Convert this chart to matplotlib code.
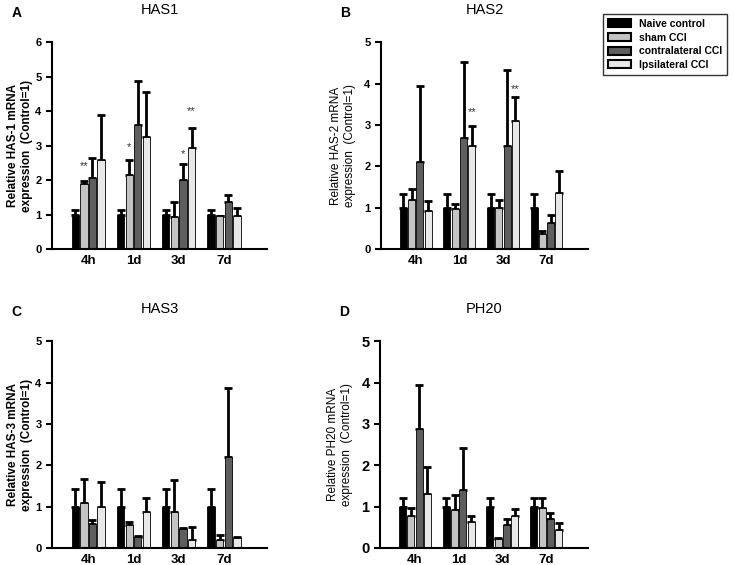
import numpy as np
import matplotlib
matplotlib.use('Agg')
from matplotlib import pyplot as plt
from matplotlib.patches import Patch

plt.rcParams['font.family'] = ['Liberation Sans', 'DejaVu Sans']

groups = ['4h', '1d', '3d', '7d']
series = ['Naive control', 'sham CCI', 'contralateral CCI', 'Ipsilateral CCI']
colors = ['#000000', '#c4c4c4', '#5e5e5e', '#e8e8e8']

# means (rows = series, cols = time points) and upper error sizes
has1_mean = [[1.0, 1.0, 1.0, 1.0], [1.88, 2.15, 0.93, 0.95],
             [2.07, 3.6, 2.0, 1.37], [2.58, 3.25, 2.92, 0.97]]
has1_err = [[0.13, 0.13, 0.13, 0.13], [0.10, 0.43, 0.42, 0.02],
            [0.57, 1.28, 0.46, 0.19], [1.30, 1.30, 0.58, 0.21]]

has2_mean = [[1.0, 1.0, 1.0, 1.0], [1.18, 0.96, 1.0, 0.37],
             [2.1, 2.68, 2.5, 0.64], [0.92, 2.48, 3.1, 1.36]]
has2_err = [[0.33, 0.33, 0.33, 0.33], [0.28, 0.14, 0.18, 0.06],
            [1.85, 1.84, 1.83, 0.17], [0.23, 0.50, 0.57, 0.52]]

has3_mean = [[1.0, 1.0, 1.0, 1.0], [1.08, 0.56, 0.87, 0.2],
             [0.58, 0.26, 0.47, 2.2], [0.98, 0.88, 0.2, 0.24]]
has3_err = [[0.43, 0.43, 0.43, 0.43], [0.60, 0.07, 0.77, 0.12],
            [0.10, 0.03, 0.02, 1.67], [0.62, 0.34, 0.30, 0.02]]

ph20_mean = [[1.0, 1.0, 1.0, 1.0], [0.78, 0.92, 0.21, 0.96],
             [2.87, 1.4, 0.56, 0.69], [1.3, 0.62, 0.78, 0.44]]
ph20_err = [[0.20, 0.20, 0.20, 0.20], [0.18, 0.36, 0.02, 0.24],
            [1.06, 1.02, 0.14, 0.16], [0.65, 0.16, 0.17, 0.16]]

# significance marks: (group, series, y, text)
has1_stars = [(0, 1, 2.25, '**'), (1, 1, 2.8, '*'), (2, 2, 2.6, '*'), (2, 3, 3.85, '**')]
has2_stars = [(1, 3, 3.2, '**'), (2, 3, 3.75, '**')]

panels = [
    dict(letter='A', title='HAS1', gene='HAS-1', mean=has1_mean, err=has1_err, ymax=6,
         stars=has1_stars, rect=[0.0708, 0.5593, 0.293, 0.366], bold=True, tsize=8),
    dict(letter='B', title='HAS2', gene='HAS-2', mean=has2_mean, err=has2_err, ymax=5,
         stars=has2_stars, rect=[0.519, 0.5593, 0.282, 0.366], bold=False, tsize=8),
    dict(letter='C', title='HAS3', gene='HAS-3', mean=has3_mean, err=has3_err, ymax=5,
         stars=[], rect=[0.0708, 0.0301, 0.293, 0.366], bold=True, tsize=8),
    dict(letter='D', title='PH20', gene='PH20', mean=ph20_mean, err=ph20_err, ymax=5,
         stars=[], rect=[0.5177, 0.0301, 0.283, 0.366], bold=False, tsize=10.5),
]

fig = plt.figure(figsize=(7.34, 5.65), dpi=100)

step = 0.19
width = 0.16
x = np.arange(len(groups))

for p in panels:
    ax = fig.add_axes(p['rect'])
    for i in range(len(series)):
        xs = x + (i - 1.5) * step
        m = np.array(p['mean'][i])
        e = np.array(p['err'][i])
        ax.bar(xs, m, width, color=colors[i], edgecolor='black', linewidth=0.6, zorder=2)
        ax.errorbar(xs, m, yerr=[np.zeros_like(e), e], fmt='none', ecolor='black',
                    elinewidth=2, capsize=3.2, capthick=2, zorder=1)
    for g, s, y, t in p['stars']:
        ax.text(x[g] + (s - 1.5) * step, y, t, ha='center', va='bottom',
                fontsize=8, color='#333333')
    ax.set_xlim(-0.8, 3.95)
    ax.set_ylim(0, p['ymax'])
    ax.set_yticks(range(p['ymax'] + 1))
    ax.set_xticks(x)
    ax.set_xticklabels(groups, fontsize=9.5, fontweight='bold')
    ax.tick_params(axis='x', length=0, pad=4)
    ax.tick_params(axis='y', length=4, width=1.5, labelsize=p['tsize'])
    for lab in ax.get_yticklabels():
        lab.set_fontweight('bold')
    for side in ['top', 'right']:
        ax.spines[side].set_visible(False)
    for side in ['left', 'bottom']:
        ax.spines[side].set_linewidth(1.5)
    ax.set_ylabel('Relative %s mRNA\nexpression  (Control=1)' % p['gene'],
                  fontsize=8.5, fontweight='bold' if p['bold'] else 'normal',
                  labelpad=2 if p['bold'] else 6)
    ax.set_title(p['title'], fontsize=10.5, pad=20)
    bb = ax.get_position()
    fig.text(bb.x0 - 0.055, bb.y1 + 0.04, p['letter'], fontsize=10,
             fontweight='bold', ha='left', va='bottom')

handles = [Patch(facecolor=c, edgecolor='black', linewidth=1.5) for c in colors]
leg = fig.legend(handles, series, loc='upper right', bbox_to_anchor=(0.998, 0.985),
                 fontsize=7.5, frameon=True, fancybox=False, edgecolor='black',
                 handlelength=2.2, handleheight=0.8, borderpad=0.5, labelspacing=0.35)
leg.get_frame().set_linewidth(1.0)
for t in leg.get_texts():
    t.set_fontweight('bold')

fig.savefig('out.png', dpi=100)
